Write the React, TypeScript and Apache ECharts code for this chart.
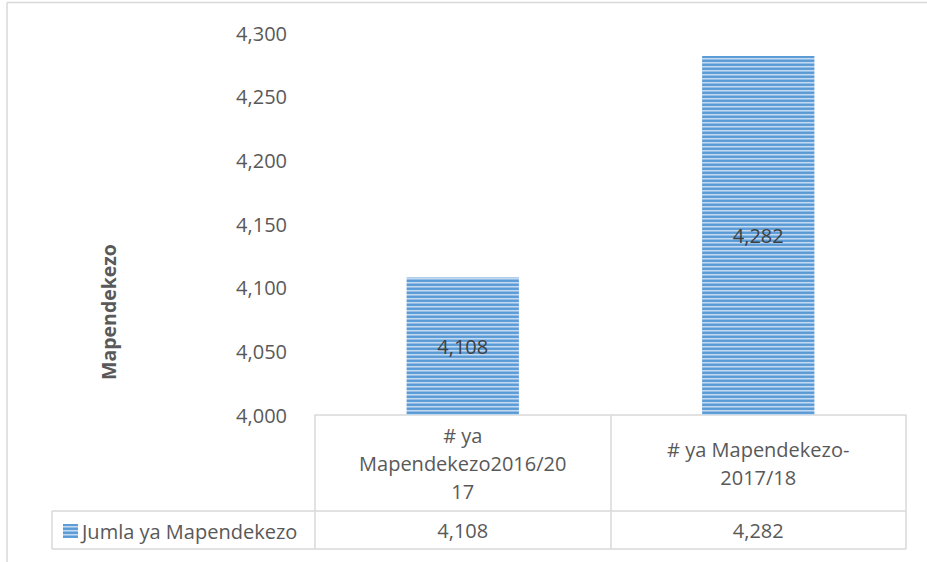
import React, { useEffect, useRef } from "react";
import * as echarts from "echarts";

const categories = ["# ya\nMapendekezo2016/20\n17", "# ya Mapendekezo-\n2017/18"];
const seriesName = "Jumla ya Mapendekezo";
const values = [4108, 4282];
const yMin = 4000;
const yMax = 4300;
const yInterval = 50;
const yAxisTitle = "Mapendekezo";

const FONT = "Open Sans";
const fmt = (v: number) => v.toLocaleString("en-US");

function makePattern(): HTMLCanvasElement {
  const c = document.createElement("canvas");
  c.width = 4;
  c.height = 4;
  const ctx = c.getContext("2d")!;
  const rows = ["#5b9bd5", "#5f9ed7", "#c3d9f0", "#93bce6"];
  rows.forEach((col, i) => {
    ctx.fillStyle = col;
    ctx.fillRect(0, i, 4, 1);
  });
  return c;
}

export default function App() {
  const ref = useRef<HTMLDivElement>(null);
  useEffect(() => {
    if (!ref.current) return;
    const chart = echarts.init(ref.current, undefined, { renderer: "svg" });
    const pattern = makePattern();
    const fill: any = { image: pattern, repeat: "repeat" };
    const border = "#d9d9d9";
    const line = (x1: number, y1: number, x2: number, y2: number) => ({
      type: "line",
      shape: { x1, y1, x2, y2 },
      style: { stroke: border, lineWidth: 1.5 },
      silent: true,
    });
    chart.setOption({
      animation: false,
      backgroundColor: "#ffffff",
      grid: { left: 315, right: 21, top: 33, bottom: 147, containLabel: false },
      legend: {
        data: [seriesName],
        left: 58,
        top: 516,
        itemWidth: 15,
        itemHeight: 14,
        itemGap: 4,
        icon: "rect",
        textStyle: { fontFamily: FONT, fontSize: 20, color: "#595959", padding: [0, 0, 0, -1] },
      },
      xAxis: [
        {
          type: "category",
          data: categories,
          axisLine: { show: true, lineStyle: { color: border, width: 1.5 } },
          axisTick: { show: false },
          axisLabel: {
            interval: 0,
            margin: 48,
            verticalAlign: "middle",
            lineHeight: 28,
            fontFamily: FONT,
            fontSize: 20,
            color: "#595959",
          },
        },
        {
          type: "category",
          position: "bottom",
          data: values.map(fmt),
          axisLine: { show: false },
          axisTick: { show: false },
          axisLabel: {
            interval: 0,
            margin: 115,
            verticalAlign: "middle",
            fontFamily: FONT,
            fontSize: 20,
            color: "#595959",
          },
        },
      ],
      yAxis: {
        type: "value",
        min: yMin,
        max: yMax,
        interval: yInterval,
        axisLine: { show: false },
        axisTick: { show: false },
        splitLine: { show: false },
        axisLabel: {
          margin: 28,
          fontFamily: FONT,
          fontSize: 20,
          color: "#595959",
          formatter: (v: number) => fmt(v),
        },
      },
      series: [
        {
          name: seriesName,
          type: "bar",
          data: values,
          barWidth: "38%",
          itemStyle: { color: fill },
          label: {
            show: true,
            position: "inside",
            fontFamily: FONT,
            fontSize: 20,
            color: "#404040",
            formatter: (p: any) => fmt(p.value),
          },
        },
      ],
      graphic: [
        line(7, 2.5, 927, 2.5),
        line(7, 2.5, 7, 562),
        line(315, 415, 315, 549),
        line(611, 415, 611, 549),
        line(906, 415, 906, 549),
        line(52, 511, 906, 511),
        line(52, 549, 906, 549),
        line(52, 511, 52, 549),
        {
          type: "text",
          x: 108,
          y: 312,
          rotation: Math.PI / 2,
          style: {
            text: yAxisTitle,
            align: "center",
            verticalAlign: "middle",
            fontFamily: FONT,
            fontSize: 19.5,
            fontWeight: "bold",
            fill: "#595959",
          },
        },
      ],
    });
    return () => chart.dispose();
  }, []);
  return (
    <div
      ref={ref}
      style={{ position: "fixed", left: 0, top: 0, width: 927, height: 562 }}
    />
  );
}
